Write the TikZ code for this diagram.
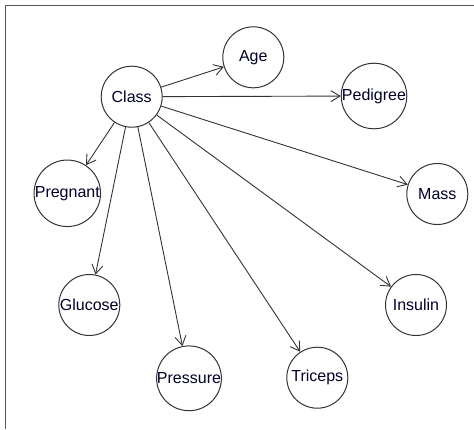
\documentclass[tikz,border=0pt]{standalone}
\usepackage{fontspec}
\setmainfont{Liberation Sans}
\usetikzlibrary{arrows.meta}
\definecolor{ink}{HTML}{333333}
\definecolor{framecol}{HTML}{555555}
\tikzset{
  var/.style={circle, draw=ink, line width=1pt, minimum size=61pt, inner sep=0pt, font=\fontsize{16}{18}\selectfont, text=black!85!blue},
  edge/.style={draw=ink, line width=0.9pt, -{Straight Barb[length=9pt,width=11pt,line width=0.9pt]}},
}
\begin{document}
\begin{tikzpicture}[x=1pt,y=-1pt]
\useasboundingbox (0,0) rectangle (474,429);
\draw[framecol, line width=1.5pt] (5.5,429) -- (5.5,5.5) -- (474,5.5);
\node[var] (class) at (131.7,96.7) {Class};
\node[var] (age) at (253.3,57.3) {Age};
\node[var] (ped) at (374,96) {Pedigree};
\node[var] (preg) at (67.3,193.3) {Pregnant};
\node[var] (mass) at (437.3,194) {Mass};
\node[var] (gluc) at (89.3,305) {Glucose};
\node[var] (ins) at (416,305) {Insulin};
\node[var] (pres) at (189,378.3) {Pressure};
\node[var] (tri) at (317.3,377.7) {Triceps};
\foreach \t in {age,ped,preg,mass,gluc,ins,pres,tri}
  \draw[edge] (class) -- (\t);
\end{tikzpicture}
\end{document}
